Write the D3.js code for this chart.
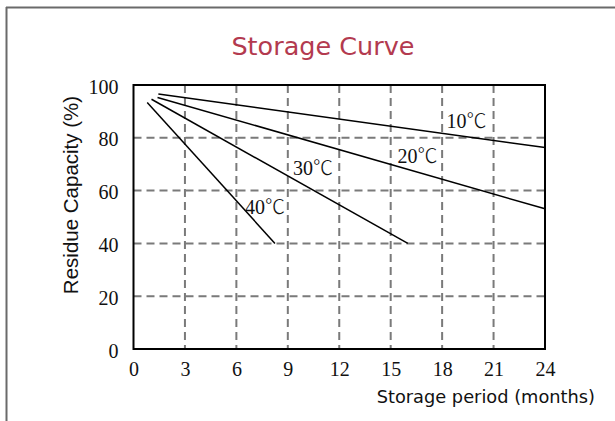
<!DOCTYPE html>
<html>
<head>
<meta charset="utf-8">
<script src="https://cdn.jsdelivr.net/npm/d3@7"></script>
<style>
  body { margin: 0; background: #fff; }
  svg { display: block; }
</style>
</head>
<body>
<div id="chart"></div>
<script>
// Curve data (months, residue capacity %)
const temps = ['10', '20', '30', '40'];
const startMonth = [1.45, 1.4, 1.05, 0.8];
const startCap = [96.6, 95.3, 94.6, 93.4];
const endMonth = [24, 24, 16, 8.25];
const endCap = [76.3, 53.1, 40, 40];
// where each temperature label sits, in data units
const labelMonth = [18.25, 15.4, 9.3, 6.5];
const labelCap = [83.6, 70.4, 65.9, 51.2];

const xTicks = [0, 3, 6, 9, 12, 15, 18, 21, 24];
const yTicks = [0, 20, 40, 60, 80, 100];

const width = 615;
const height = 421;
const margin = { top: 85, right: 70, bottom: 72, left: 133.5 };
const serif = '"Liberation Serif", "Times New Roman", serif';

const svg = d3.select('#chart')
  .append('svg')
  .attr('width', width)
  .attr('height', height);

// picture frame (only top and left edges show)
svg.append('line')
  .attr('x1', 6).attr('x2', width).attr('y1', 7.5).attr('y2', 7.5)
  .attr('stroke', '#6a6a6a').attr('stroke-width', 2);
svg.append('line')
  .attr('x1', 6.5).attr('x2', 6.5).attr('y1', 7).attr('y2', height)
  .attr('stroke', '#6a6a6a').attr('stroke-width', 2);

const x = d3.scaleLinear()
  .domain([0, 24])
  .range([margin.left, width - margin.right]);

const y = d3.scaleLinear()
  .domain([0, 100])
  .range([height - margin.bottom, margin.top]);

// Title
svg.append('text')
  .attr('x', 323)
  .attr('y', 55)
  .attr('text-anchor', 'middle')
  .style('font-family', '"DejaVu Sans", Verdana, sans-serif')
  .style('font-size', '25.5px')
  .attr('fill', '#b33a4f')
  .text('Storage Curve');

// Dashed grid
svg.append('g')
  .selectAll('line')
  .data(xTicks.slice(1, -1))
  .enter().append('line')
  .attr('x1', d => x(d)).attr('x2', d => x(d))
  .attr('y1', y(100)).attr('y2', y(0))
  .attr('stroke', '#7a7a7a')
  .attr('stroke-width', 2)
  .attr('stroke-dasharray', '8,5');

svg.append('g')
  .selectAll('line')
  .data(yTicks.slice(1, -1))
  .enter().append('line')
  .attr('x1', x(0)).attr('x2', x(24))
  .attr('y1', d => y(d)).attr('y2', d => y(d))
  .attr('stroke', '#7a7a7a')
  .attr('stroke-width', 2)
  .attr('stroke-dasharray', '8,5');

// Axes (ticks hidden, only labels)
const xAxis = svg.append('g')
  .attr('transform', `translate(0, ${y(0)})`)
  .call(d3.axisBottom(x).tickValues(xTicks).tickSize(0).tickPadding(0));
xAxis.select('.domain').remove();
xAxis.selectAll('text')
  .attr('y', 27)
  .attr('dy', 0)
  .style('font-family', serif)
  .style('font-size', '20px')
  .attr('fill', '#111');

const yAxis = svg.append('g')
  .attr('transform', `translate(${x(0)}, 0)`)
  .call(d3.axisLeft(y).tickValues(yTicks).tickSize(0).tickPadding(15));
yAxis.select('.domain').remove();
yAxis.selectAll('text')
  .attr('dy', '0.4em')
  .style('font-family', serif)
  .style('font-size', '20px')
  .attr('fill', '#111');

// Plot frame
svg.append('rect')
  .attr('x', x(0)).attr('y', y(100))
  .attr('width', x(24) - x(0))
  .attr('height', y(0) - y(100))
  .attr('fill', 'none')
  .attr('stroke', '#000')
  .attr('stroke-width', 2);

// Curves
const line = d3.line()
  .x(d => x(d[0]))
  .y(d => y(d[1]));

temps.forEach((t, i) => {
  svg.append('path')
    .datum([[startMonth[i], startCap[i]], [endMonth[i], endCap[i]]])
    .attr('d', line)
    .attr('fill', 'none')
    .attr('stroke', '#000')
    .attr('stroke-width', 1.5);

  const label = svg.append('text')
    .attr('x', x(labelMonth[i]))
    .attr('y', y(labelCap[i]))
    .style('font-family', serif)
    .style('font-size', '20px')
    .attr('fill', '#111');
  label.append('tspan').text(t);
  label.append('tspan')
    .style('font-family', '"Noto Sans CJK SC", sans-serif')
    .style('font-weight', 300)
    .text('℃');
});

// Axis titles
svg.append('text')
  .attr('transform', 'translate(78, 195) rotate(-90)')
  .attr('text-anchor', 'middle')
  .style('font-family', '"Liberation Sans", Arial, sans-serif')
  .style('font-size', '20.5px')
  .attr('fill', '#111')
  .text('Residue Capacity (%)');

svg.append('text')
  .attr('x', 595)
  .attr('y', 403)
  .attr('text-anchor', 'end')
  .style('font-family', '"DejaVu Sans", Verdana, sans-serif')
  .style('font-size', '17.8px')
  .attr('fill', '#111')
  .text('Storage period (months)');
</script>
</body>
</html>
